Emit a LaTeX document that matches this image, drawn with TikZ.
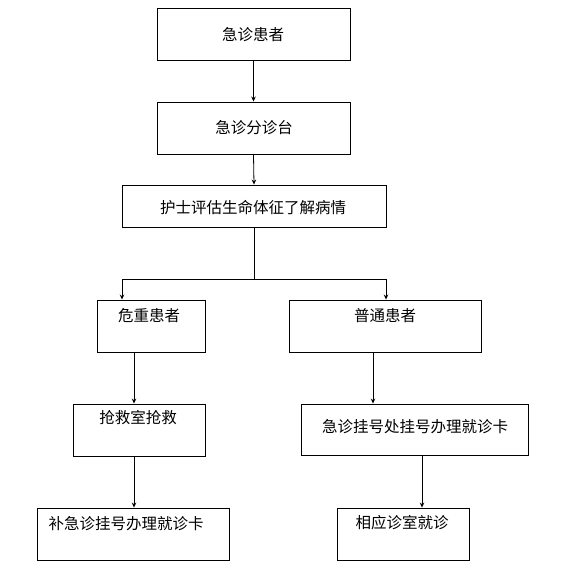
\documentclass[tikz,border=0pt]{standalone}
\usepackage{fontspec}
\setmainfont{Noto Sans CJK SC}
\usetikzlibrary{arrows.meta}
\begin{document}
\begin{tikzpicture}[x=1pt,y=-1pt,
  box/.style={draw,line width=0.9pt,inner sep=0pt,anchor=center},
  lbl/.style={inner sep=0pt,anchor=center,font=\fontsize{15.5pt}{16pt}\selectfont},
  arr/.style={line width=0.8pt,-{Stealth[length=5pt,width=4.5pt]}},
  ln/.style={line width=0.8pt}]
\useasboundingbox (0,0) rectangle (573,562);
% boxes
\node[box,minimum width=193pt,minimum height=52pt] (b1) at (253.5,34) {};
\node[box,minimum width=193pt,minimum height=52pt] (b2) at (253.5,128) {};
\node[box,minimum width=264pt,minimum height=42pt] (b3) at (254,206) {};
\node[box,minimum width=108pt,minimum height=52pt] (b4) at (151,326) {};
\node[box,minimum width=192pt,minimum height=52pt] (b5) at (385,326) {};
\node[box,minimum width=132pt,minimum height=52pt] (b6) at (139,430) {};
\node[box,minimum width=227pt,minimum height=51pt] (b7) at (414.5,429.5) {};
\node[box,minimum width=192pt,minimum height=52pt] (b8) at (133,534) {};
\node[box,minimum width=132pt,minimum height=52pt] (b9) at (403,534) {};
% labels
\node[lbl] (t1) at (253,35) {急诊患者};
\node[lbl] (t2) at (254,128) {急诊分诊台};
\node[lbl] (t3) at (253,208) {护士评估生命体征了解病情};
\node[lbl] (t4) at (149,316) {危重患者};
\node[lbl] (t5) at (385,316) {普通患者};
\node[lbl] (t6) at (138,418) {抢救室抢救};
\node[lbl] (t7) at (415,427) {急诊挂号处挂号办理就诊卡};
\node[lbl] (t8) at (126,524) {补急诊挂号办理就诊卡};
\node[lbl] (t9) at (402,523) {相应诊室就诊};
% helper coordinates
\coordinate (hl) at (122,279);
\coordinate (hr) at (386,279);
\coordinate (c1) at (134,0);
\coordinate (c2) at (373,0);
\coordinate (c3) at (422,0);
% connectors
\draw[arr] (b1.south) -- (b2.north);
\draw[arr] (b2.south) -- (b3.north);
\draw[ln] (b3.south) -- (b3.south |- hl);
\draw[ln] (hl) -- (hr);
\draw[arr] (hl) -- (hl |- b4.north);
\draw[arr] (hr) -- (hr |- b5.north);
\draw[arr] (b4.south -| c1) -- (b6.north -| c1);
\draw[arr] (b6.south -| c1) -- (b8.north -| c1);
\draw[arr] (b5.south -| c2) -- (b7.north -| c2);
\draw[arr] (b7.south -| c3) -- (b9.north -| c3);
\end{tikzpicture}
\end{document}
